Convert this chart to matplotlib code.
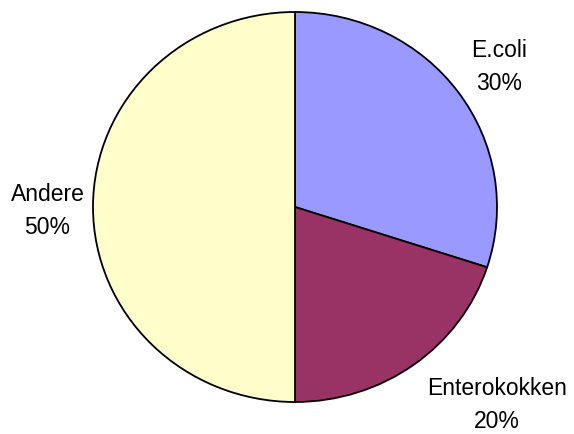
import matplotlib
matplotlib.use("Agg")
import matplotlib.pyplot as plt

labels = ["E.coli", "Enterokokken", "Andere"]
values = [30, 20, 50]
colors = ["#9999FF", "#993366", "#FFFFCC"]

# label anchor points (data units, pie radius = 1)
label_pos = [(1.01, 0.72), (1.0, -1.015), (-1.225, -0.02)]

fig = plt.figure(figsize=(5.74, 4.34), dpi=100)
# the original pie is slightly squashed: 404 px wide, 390 px tall
ax = fig.add_axes([93 / 574, 32 / 434, 404 / 574, 390 / 434])

ax.pie(values, colors=colors, startangle=90, counterclock=False,
       wedgeprops=dict(edgecolor="black", linewidth=1.3))

for name, val, (x, y) in zip(labels, values, label_pos):
    ax.text(x, y, f"{name}\n{val}%", ha="center", va="center",
            fontsize=16.5, family="Liberation Sans", linespacing=1.55)

ax.set_aspect("auto")
ax.set_xlim(-1, 1)
ax.set_ylim(-1, 1)
ax.axis("off")

fig.savefig("out.png", dpi=100)
